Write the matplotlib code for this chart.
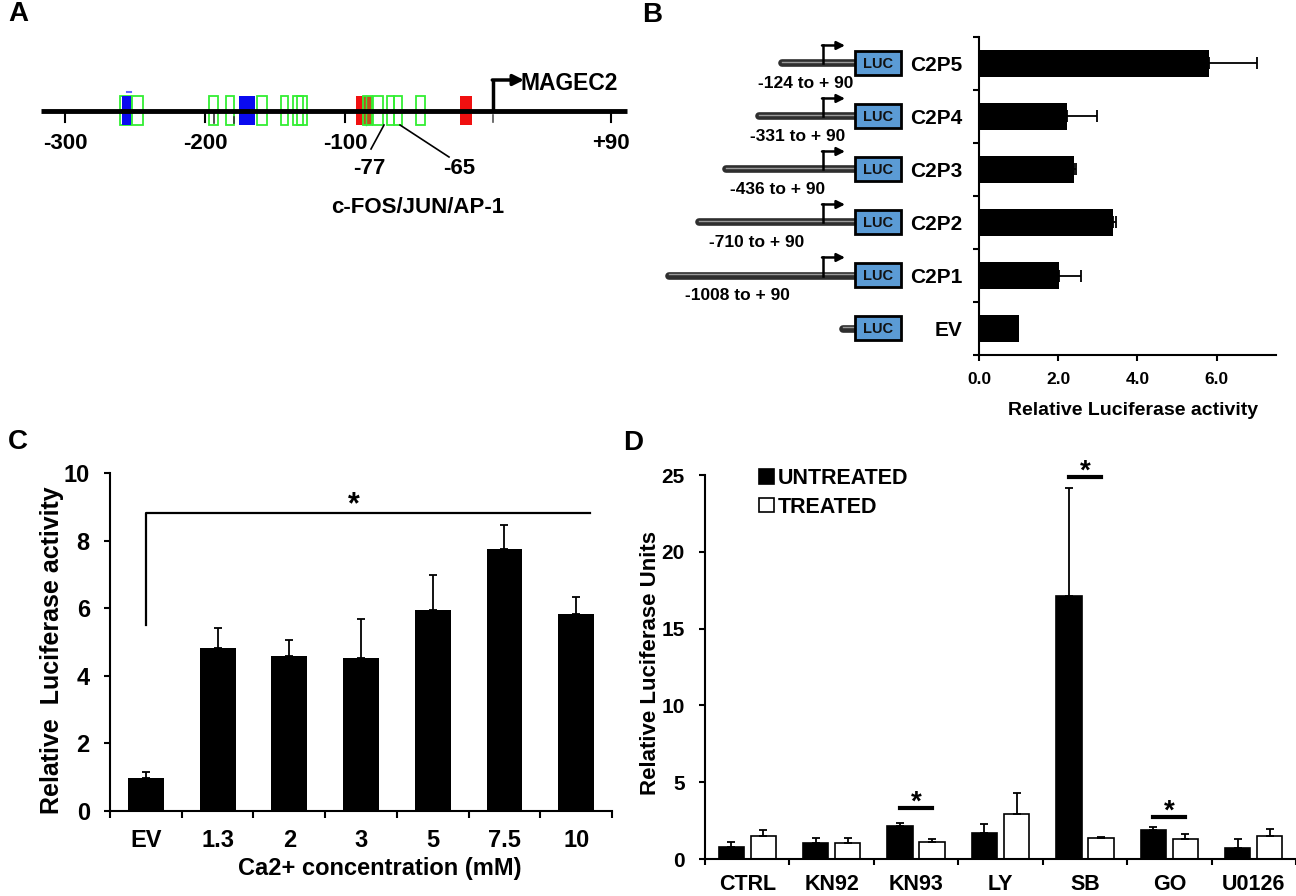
import matplotlib
matplotlib.use("Agg")
import matplotlib.pyplot as plt
from matplotlib.patches import Rectangle
from matplotlib.transforms import blended_transform_factory

plt.rcParams['font.family'] = ['Liberation Sans', 'DejaVu Sans']
plt.rcParams['font.weight'] = 'bold'
plt.rcParams['axes.labelweight'] = 'bold'
plt.rcParams['axes.linewidth'] = 1.5

W, H = 1296, 896

# ---- panel A: binding sites on the MAGEC2 promoter (bp from TSS) ----
green_sites = [(-261, -253), (-252, -244), (-197, -191), (-185, -179), (-163, -156),
               (-146, -141), (-137, -130), (-134, -127), (-80, -73), (-70, -65),
               (-65, -59), (-49, -43)]
blue_sites = [(-259, -253), (-176, -164)]
red_sites = [(-92, -87), (-18, -9)]
mixed_sites = [(-87, -81)]
tss_bp = 6
a_ticks = [-300, -200, -100, 90]
a_tick_labels = ['-300', '-200', '-100', '+90']

# ---- panel B: deletion constructs ----
constructs = ['EV', 'C2P1', 'C2P2', 'C2P3', 'C2P4', 'C2P5']
b_ranges = ['', '-1008 to + 90', '-710 to + 90', '-436 to + 90', '-331 to + 90', '-124 to + 90']
b_values = [1.01, 2.02, 3.38, 2.39, 2.21, 5.81]
b_err = [0.0, 0.56, 0.07, 0.06, 0.77, 1.22]

# ---- panel C: calcium dose ----
ca_labels = ['EV', '1.3', '2', '3', '5', '7.5', '10']
ca_values = [0.97, 4.82, 4.59, 4.52, 5.95, 7.75, 5.83]
ca_err = [0.19, 0.59, 0.47, 1.17, 1.04, 0.70, 0.50]

# ---- panel D: inhibitors ----
inhibitors = ['CTRL', 'KN92', 'KN93', 'LY', 'SB', 'GO', 'U0126']
untreated = [0.76, 1.02, 2.15, 1.67, 17.14, 1.89, 0.74]
untreated_err = [0.32, 0.33, 0.17, 0.61, 6.99, 0.21, 0.56]
treated = [1.50, 1.06, 1.09, 2.91, 1.35, 1.30, 1.48]
treated_err = [0.39, 0.29, 0.23, 1.37, 0.10, 0.33, 0.45]
sig_groups = [2, 4, 5]
sig_heights = [3.34, 24.9, 2.76]


def frac(left, top, right, bottom):
    return [left / W, 1 - bottom / H, (right - left) / W, (bottom - top) / H]


def bp(px):
    # panel A drawing scale: 1.4 px per bp
    return (px - 485) / 1.4


fig = plt.figure(figsize=(12.96, 8.96), dpi=100)

# ================= A =================
axA = fig.add_axes(frac(0, 60, 640, 230))
axA.set_xlim(bp(0), bp(640))
axA.set_ylim(230, 60)
axA.axis('off')
axA.plot([bp(41), bp(627)], [111, 111], color='black', lw=3.5, solid_capstyle='butt', zorder=3)
for t, lab in zip(a_ticks, a_tick_labels):
    axA.plot([t, t], [111, 122], color='black', lw=1.5)
    axA.text(t, 143, lab, ha='center', va='center', fontsize=16)
axA.plot([tss_bp, tss_bp], [115, 122], color='#555555', lw=1.2)
for s, e in green_sites:
    axA.add_patch(Rectangle((s, 96), e - s, 29, fill=False, edgecolor='#33ee33', lw=1.3, zorder=2))
for s, e in blue_sites:
    axA.add_patch(Rectangle((s, 96), e - s, 29, facecolor='#0a0af0', edgecolor='none', zorder=2))
for s, e in red_sites:
    axA.add_patch(Rectangle((s, 96), e - s, 29, facecolor='#f01010', edgecolor='none', zorder=2))
for s, e in mixed_sites:
    axA.add_patch(Rectangle((s, 96), e - s, 29, facecolor='#c05020', edgecolor='#33ee33', lw=1.3, zorder=2))
    axA.plot([s + 2, s + 2], [96, 125], color='#33ee33', lw=1.0, zorder=2)
axA.plot([-256, -253], [92, 92], color='#6666ff', lw=1.5)
axA.plot([bp(214), bp(214)], [113, 123], color='#333333', lw=1.2)
axA.plot([bp(234), bp(234)], [117, 123], color='#333333', lw=1.2)
# transcription start arrow
axA.plot([tss_bp, tss_bp], [111, 80], color='black', lw=2.5, solid_capstyle='butt')
axA.annotate('', xy=(bp(524), 80), xytext=(tss_bp - 0.8, 80),
             arrowprops=dict(arrowstyle='-|>', color='black', lw=2.5, mutation_scale=16,
                             shrinkA=0, shrinkB=0))
axA.text(bp(521), 83, 'MAGEC2', ha='left', va='center', fontsize=16.5)
# AP-1 site callouts
axA.plot([bp(384), bp(371)], [125, 149], color='black', lw=1.2)
axA.plot([bp(400), bp(449)], [125, 157], color='black', lw=1.2)
axA.text(bp(369), 168, '-77', ha='center', va='center', fontsize=16)
axA.text(bp(459), 168, '-65', ha='center', va='center', fontsize=16)
axA.text(bp(418), 207, 'c-FOS/JUN/AP-1', ha='center', va='center', fontsize=16)

# ================= B =================
axB = fig.add_axes(frac(979, 37, 1276, 355))
rows = list(range(len(constructs)))
axB.barh(rows, b_values, height=0.52, color='black', zorder=2)
axB.errorbar([v for v, e in zip(b_values, b_err) if e > 0],
             [r for r, e in zip(rows, b_err) if e > 0],
             xerr=[[0] * sum(e > 0 for e in b_err), [e for e in b_err if e > 0]],
             fmt='none', ecolor='black', elinewidth=1.3, capsize=4, capthick=1.3)
axB.set_xlim(0, 7.5)
axB.set_ylim(-0.5, 5.5)
axB.set_xticks([0, 2, 4, 6])
axB.set_xticklabels(['0.0', '2.0', '4.0', '6.0'])
axB.set_yticks(rows)
axB.set_yticklabels(constructs)
axB.set_yticks([r - 0.5 for r in rows] + [5.5], minor=True)
axB.tick_params(axis='y', which='major', length=0, pad=12, labelsize=15)
axB.tick_params(axis='y', which='minor', length=4.5, width=1.5, direction='out')
axB.tick_params(axis='x', length=4.5, width=1.5, direction='out', pad=8, labelsize=12.5)
axB.spines['top'].set_visible(False)
axB.spines['right'].set_visible(False)
axB.set_xlabel('Relative Luciferase activity', fontsize=14, va='center')
axB.xaxis.set_label_coords((1133 - 979) / 297, (355 - 410) / 318)

# construct schematics: x in figure pixels, y follows panel B rows
axO = fig.add_axes([0, 0, 1, 1], zorder=5)
axO.set_xlim(0, W)
axO.set_ylim(H, 0)
axO.axis('off')
trans = blended_transform_factory(axO.transData, axB.transData)
line_start = [843, 669, 699, 726, 759, 782]
label_x = [0, 737, 757, 778, 798, 806]
for r in rows:
    axO.plot([line_start[r], 856], [r, r], transform=trans, color='#2e2e2e', lw=5.5,
             solid_capstyle='round', clip_on=False)
    axO.plot([line_start[r], 856], [r + 0.03, r + 0.03], transform=trans, color='#9a9a9a',
             lw=1.0, clip_on=False)
    axO.add_patch(Rectangle((855, r - 0.22), 46, 0.46, transform=trans, facecolor='#5b9bd5',
                            edgecolor='black', lw=2, clip_on=False, zorder=3))
    axO.text(878, r, 'LUC', transform=trans, ha='center', va='center', fontsize=10.5,
             color='#111111', zorder=4)
    if b_ranges[r]:
        axO.plot([823, 823], [r, r + 0.34], transform=trans, color='black', lw=1.8, clip_on=False)
        axO.annotate('', xy=(845, r + 0.34), xytext=(822, r + 0.34), xycoords=trans,
                     arrowprops=dict(arrowstyle='-|>', color='black', lw=1.8,
                                     mutation_scale=12, shrinkA=0, shrinkB=0))
        axO.text(label_x[r], r - 0.37, b_ranges[r], transform=trans, ha='center',
                 va='center', fontsize=12.5)

# ================= C =================
axC = fig.add_axes(frac(110, 473, 612, 811))
xc = list(range(len(ca_labels)))
axC.bar(xc, ca_values, width=0.5, color='black', zorder=2)
axC.errorbar(xc, ca_values, yerr=[[0] * len(ca_err), ca_err], fmt='none', ecolor='black',
             elinewidth=1.3, capsize=3, capthick=1.3)
axC.set_xlim(-0.5, 6.5)
axC.set_ylim(0, 10)
axC.set_yticks(range(0, 11, 2))
axC.set_xticks(xc)
axC.set_xticklabels(ca_labels)
axC.set_xticks([i - 0.5 for i in xc] + [6.5], minor=True)
axC.tick_params(axis='x', which='major', length=0, pad=13, labelsize=17)
axC.tick_params(axis='x', which='minor', length=5, width=1.5, direction='out')
axC.tick_params(axis='y', length=4.5, width=1.5, direction='out', pad=10, labelsize=17)
axC.spines['top'].set_visible(False)
axC.spines['right'].set_visible(False)
axC.set_ylabel('Relative  Luciferase activity', fontsize=18, va='center')
axC.yaxis.set_label_coords((52 - 110) / 502, (811 - 650) / 338)
axC.set_xlabel('Ca2+ concentration (mM)', fontsize=17, va='center')
axC.xaxis.set_label_coords((380 - 110) / 502, (811 - 868) / 338)
axC.plot([0, 0, 6.19], [5.51, 8.83, 8.83], color='black', lw=1.6, clip_on=False)
axC.text(2.9, 9.05, '*', ha='center', va='center', fontsize=22)

# ================= D =================
axD = fig.add_axes(frac(705, 475, 1296, 859))
xd = list(range(len(inhibitors)))
off = 0.19
axD.bar([x - off for x in xd], untreated, width=0.3, color='black', edgecolor='black',
        lw=1.2, label='UNTREATED', zorder=2)
axD.bar([x + off for x in xd], treated, width=0.3, color='white', edgecolor='black',
        lw=1.2, label='TREATED', zorder=2)
axD.errorbar([x - off for x in xd], untreated, yerr=[[0] * len(xd), untreated_err],
             fmt='none', ecolor='black', elinewidth=1.3, capsize=3, capthick=1.3)
axD.errorbar([x + off for x in xd], treated, yerr=[[0] * len(xd), treated_err],
             fmt='none', ecolor='black', elinewidth=1.3, capsize=3, capthick=1.3)
for g, h in zip(sig_groups, sig_heights):
    axD.plot([g - off, g + off], [h, h], color='black', lw=3, clip_on=False)
    axD.text(g, h + 0.35, '*', ha='center', va='center', fontsize=20, clip_on=False)
axD.set_xlim(-0.5, 6.5)
axD.set_ylim(0, 25)
axD.set_yticks(range(0, 26, 5))
axD.set_xticks(xd)
axD.set_xticklabels(inhibitors)
axD.set_xticks([i - 0.5 for i in xd] + [6.5], minor=True)
axD.tick_params(axis='x', which='major', length=0, pad=11, labelsize=15.5)
axD.tick_params(axis='x', which='minor', length=4.5, width=1.5, direction='out')
axD.tick_params(axis='y', length=4.5, width=1.5, direction='out', pad=10, labelsize=15)
axD.spines['top'].set_visible(False)
axD.spines['right'].set_visible(False)
axD.set_ylabel('Relative Luciferase Units', fontsize=16, va='center')
axD.yaxis.set_label_coords((650 - 705) / 591, (859 - 663) / 384)
axD.legend(loc='upper left', bbox_to_anchor=(759 / W, 1 - 468 / H),
           bbox_transform=fig.transFigure, frameon=False, fontsize=15.5,
           handlelength=0.7, handleheight=0.65, handletextpad=0.15, labelspacing=0.35,
           borderpad=0, borderaxespad=0)

# panel letters
for letter, x, y in [('A', 18, 14), ('B', 652, 15), ('C', 18, 442), ('D', 633, 443)]:
    fig.text(x / W, 1 - y / H, letter, ha='center', va='center', fontsize=20, weight='bold')

fig.savefig('out.png', dpi=100)
